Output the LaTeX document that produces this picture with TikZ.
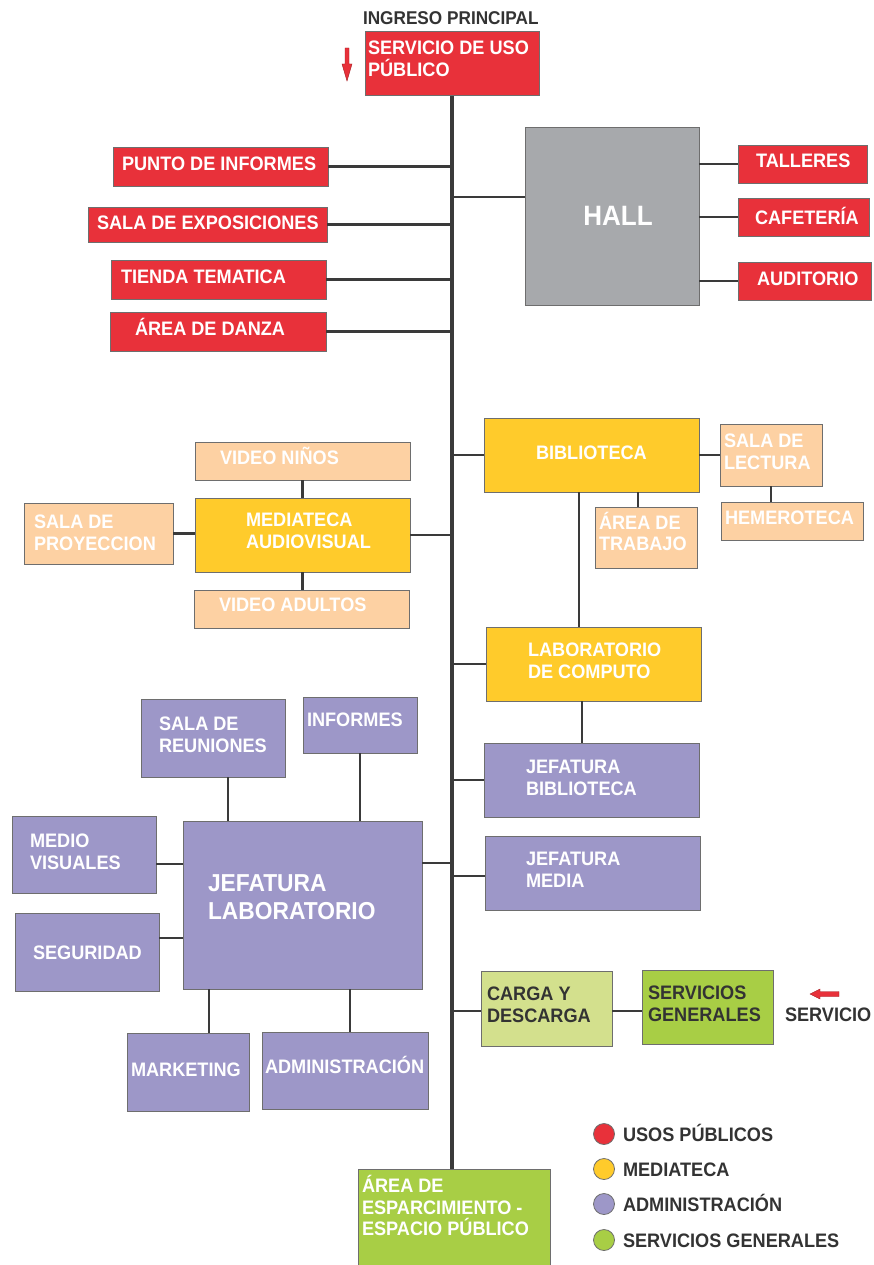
\documentclass[tikz,border=0pt]{standalone}
\usepackage{fontspec}
\setmainfont{Liberation Sans}[FakeStretch=0.93]
\definecolor{cred}{HTML}{E8313A}
\definecolor{cyel}{HTML}{FFCB2B}
\definecolor{cpea}{HTML}{FDD1A3}
\definecolor{cpur}{HTML}{9D97C8}
\definecolor{cgry}{HTML}{A7A9AC}
\definecolor{cgrn}{HTML}{A8CE45}
\definecolor{clgr}{HTML}{D3E08D}
\definecolor{bordc}{HTML}{6E6E6E}
\definecolor{connc}{HTML}{3A3A3A}
\definecolor{darkt}{HTML}{333333}
\definecolor{arrdark}{HTML}{9E1B20}
\newcommand\mybox[6]{\node[box,fill=#2,minimum width={#5-#3},minimum height={#6-#4}] (#1) at (#3,#4) {};}
\begin{document}
\begin{tikzpicture}[x=1pt,y=-1pt,
  box/.style={draw=bordc,line width=0.9pt,anchor=north west,inner sep=0pt,outer sep=0pt,rectangle},
  conn/.style={draw=connc,line width=2.7pt},
  spinel/.style={draw=connc,line width=4.5pt},
  lbl/.style={anchor=west,inner sep=0pt,outer sep=0pt,align=left,text=white,font=\fontsize{19.5}{21.6}\selectfont\bfseries},
  dlbl/.style={lbl,text=darkt},
  legc/.style={circle,draw=bordc,line width=0.8pt,minimum size=21pt,inner sep=0pt}]
\useasboundingbox (0,0) rectangle (874,1265);
% spine coordinates
\coordinate (sp1) at (452,95);
\coordinate (sp2) at (452,1169);
\coordinate (xa) at (638,0);
\coordinate (xb) at (579,0);
\coordinate (xc) at (582,0);
\coordinate (xd) at (228,0);
\coordinate (xe) at (209,0);
\coordinate (xf) at (350,0);
\coordinate (ya) at (0,197);
\coordinate (yb) at (0,876);
\coordinate (yc) at (0,863);
\coordinate (yd) at (0,864);
\coordinate (ye) at (0,938);
\coordinate (yf) at (0,1011);
% connectors first (under boxes)
\draw[spinel] (sp1) -- (sp2);
% boxes
\mybox{serv}{cred}{365}{31}{539}{95}
\mybox{pinf}{cred}{113}{147}{328}{186}
\mybox{sexp}{cred}{88}{207}{327}{242}
\mybox{tienda}{cred}{111}{260}{326}{299}
\mybox{danza}{cred}{110}{312}{326}{351}
\mybox{hall}{cgry}{525}{127}{699}{305}
\mybox{talleres}{cred}{738}{145}{867}{183}
\mybox{cafe}{cred}{738}{198}{869}{236}
\mybox{audit}{cred}{738}{262}{871}{300}
\mybox{vninos}{cpea}{195}{442}{410}{480}
\mybox{media}{cyel}{195}{498}{410}{572}
\mybox{sproy}{cpea}{24}{503}{173}{564}
\mybox{vadult}{cpea}{194}{590}{409}{628}
\mybox{biblio}{cyel}{484}{418}{699}{492}
\mybox{slect}{cpea}{720}{424}{822}{486}
\mybox{hemer}{cpea}{721}{502}{863}{540}
\mybox{atrab}{cpea}{595}{507}{697}{568}
\mybox{labc}{cyel}{486}{627}{701}{701}
\mybox{jbib}{cpur}{484}{743}{699}{817}
\mybox{jmed}{cpur}{485}{836}{700}{910}
\mybox{sreu}{cpur}{141}{699}{285}{777}
\mybox{infor}{cpur}{303}{697}{417}{753}
\mybox{jlab}{cpur}{183}{821}{422}{989}
\mybox{mvis}{cpur}{12}{816}{156}{893}
\mybox{segur}{cpur}{15}{913}{159}{991}
\mybox{mark}{cpur}{127}{1033}{249}{1111}
\mybox{admin}{cpur}{262}{1032}{428}{1109}
\mybox{carga}{clgr}{481}{971}{612}{1046}
\mybox{sgen}{cgrn}{642}{970}{773}{1044}
\mybox{esp}{cgrn}{358}{1169}{550}{1275}
% connectors
\draw[conn] (pinf.east) -- (pinf.east -| sp1);
\draw[conn] (sexp.east) -- (sexp.east -| sp1);
\draw[conn] (tienda.east) -- (tienda.east -| sp1);
\draw[conn] (danza.east) -- (danza.east -| sp1);
\draw[conn] (sp1 |- ya) -- (hall.west |- ya);
\draw[conn] (hall.east |- talleres.west) -- (talleres.west);
\draw[conn] (hall.east |- cafe.west) -- (cafe.west);
\draw[conn] (hall.east |- audit.west) -- (audit.west);
\draw[conn] (biblio.west) -- (biblio.west -| sp1);
\draw[conn] (media.east) -- (media.east -| sp1);
\draw[conn] (vninos.south) -- (vninos.south |- media.north);
\draw[conn] (media.south) -- (media.south |- vadult.north);
\draw[conn] (sproy.east) -- (sproy.east -| media.west);
\draw[conn] (biblio.east) -- (biblio.east -| slect.west);
\draw[conn] (slect.south) -- (slect.south |- hemer.north);
\draw[conn] (biblio.south -| xa) -- (atrab.north -| xa);
\draw[conn] (biblio.south -| xb) -- (labc.north -| xb);
\draw[conn] (labc.west) -- (labc.west -| sp1);
\draw[conn] (labc.south -| xc) -- (jbib.north -| xc);
\draw[conn] (jbib.west) -- (jbib.west -| sp1);
\draw[conn] (jmed.west |- yb) -- (sp1 |- yb);
\draw[conn] (jlab.east |- yc) -- (sp1 |- yc);
\draw[conn] (sreu.south -| xd) -- (jlab.north -| xd);
\draw[conn] (infor.south) -- (infor.south |- jlab.north);
\draw[conn] (mvis.east |- yd) -- (jlab.west |- yd);
\draw[conn] (segur.east |- ye) -- (jlab.west |- ye);
\draw[conn] (jlab.south -| xe) -- (mark.north -| xe);
\draw[conn] (jlab.south -| xf) -- (admin.north -| xf);
\draw[conn] (carga.west |- yf) -- (sp1 |- yf);
\draw[conn] (carga.east |- yf) -- (sgen.west |- yf);
% arrows
\filldraw[fill=cred,draw=arrdark,line width=0.4pt] (345,48) -- (349,48) -- (349,64) -- (352,64) -- (347,81) -- (342,64) -- (345,64) -- cycle;
\filldraw[fill=cred,draw=arrdark,line width=0.4pt] (810,994) -- (820,989) -- (820,991.5) -- (839,991.5) -- (839,996.5) -- (820,996.5) -- (820,999) -- cycle;
% texts
\node[dlbl,font=\fontsize{18.5}{21}\selectfont\bfseries] (ting) at (363,18) {INGRESO PRINCIPAL};
\node[lbl] (tserv) at (368,58.5) {SERVICIO DE USO\\PÚBLICO};
\node[lbl] (tpinf) at (122,164) {PUNTO DE INFORMES};
\node[lbl] (tsexp) at (97,223) {SALA DE EXPOSICIONES};
\node[lbl] (ttienda) at (121,277) {TIENDA TEMATICA};
\node[lbl] (tdanza) at (135,329) {\smash{Á}REA DE DANZA};
\node[lbl,anchor=center,font=\fontsize{28}{32}\selectfont\bfseries] (thall) at (618,216) {HALL};
\node[lbl] (ttall) at (756,161) {TALLERES};
\node[lbl] (tcafe) at (755,218) {CAFETER\smash{Í}A};
\node[lbl] (taud) at (757,279) {AUDITORIO};
\node[lbl] (tvninos) at (220,458) {VIDEO NI\smash{Ñ}OS};
\node[lbl] (tmedia) at (246,531) {MEDIATECA\\AUDIOVISUAL};
\node[lbl] (tsproy) at (34,533) {SALA DE\\PROYECCION};
\node[lbl] (tvadult) at (219,605) {VIDEO ADULTOS};
\node[lbl] (tbiblio) at (536,453) {BIBLIOTECA};
\node[lbl] (tslect) at (724,451.5) {SALA DE\\LECTURA};
\node[lbl] (themer) at (725,518) {HEMEROTECA};
\node[lbl] (tatrab) at (599,533.5) {\smash{Á}REA DE\\TRABAJO};
\node[lbl] (tlabc) at (528,660.5) {LABORATORIO\\DE COMPUTO};
\node[lbl] (tjbib) at (526,778) {JEFATURA\\BIBLIOTECA};
\node[lbl] (tjmed) at (526,870) {JEFATURA\\MEDIA};
\node[lbl] (tsreu) at (159,734.5) {SALA DE\\REUNIONES};
\node[lbl] (tinfor) at (307,720) {INFORMES};
\node[lbl,font=\fontsize{24.5}{28}\selectfont\bfseries] (tjlab) at (208,897) {JEFATURA\\LABORATORIO};
\node[lbl] (tmvis) at (30,851.5) {MEDIO\\VISUALES};
\node[lbl] (tsegur) at (33,953) {SEGURIDAD};
\node[lbl] (tmark) at (131,1070) {MARKETING};
\node[lbl] (tadmin) at (265,1067) {ADMINISTRACI\smash{Ó}N};
\node[dlbl] (tcarga) at (487,1005) {CARGA Y\\DESCARGA};
\node[dlbl] (tsgen) at (648,1003.5) {SERVICIOS\\GENERALES};
\node[dlbl] (tservicio) at (785,1015) {SERVICIO};
\node[lbl] (tesp) at (362,1207.5) {\smash{Á}REA DE\\ESPARCIMIENTO -\\ESPACIO PÚBLICO};
% legend
\node[legc,fill=cred] (lg1) at (604,1134) {};
\node[legc,fill=cyel] (lg2) at (604,1169) {};
\node[legc,fill=cpur] (lg3) at (604,1204) {};
\node[legc,fill=cgrn] (lg4) at (604,1240) {};
\node[dlbl] (lt1) at (623,1135) {USOS P\smash{Ú}BLICOS};
\node[dlbl] (lt2) at (623,1170) {MEDIATECA};
\node[dlbl] (lt3) at (623,1205) {ADMINISTRACI\smash{Ó}N};
\node[dlbl] (lt4) at (623,1241) {SERVICIOS GENERALES};
\end{tikzpicture}
\end{document}
